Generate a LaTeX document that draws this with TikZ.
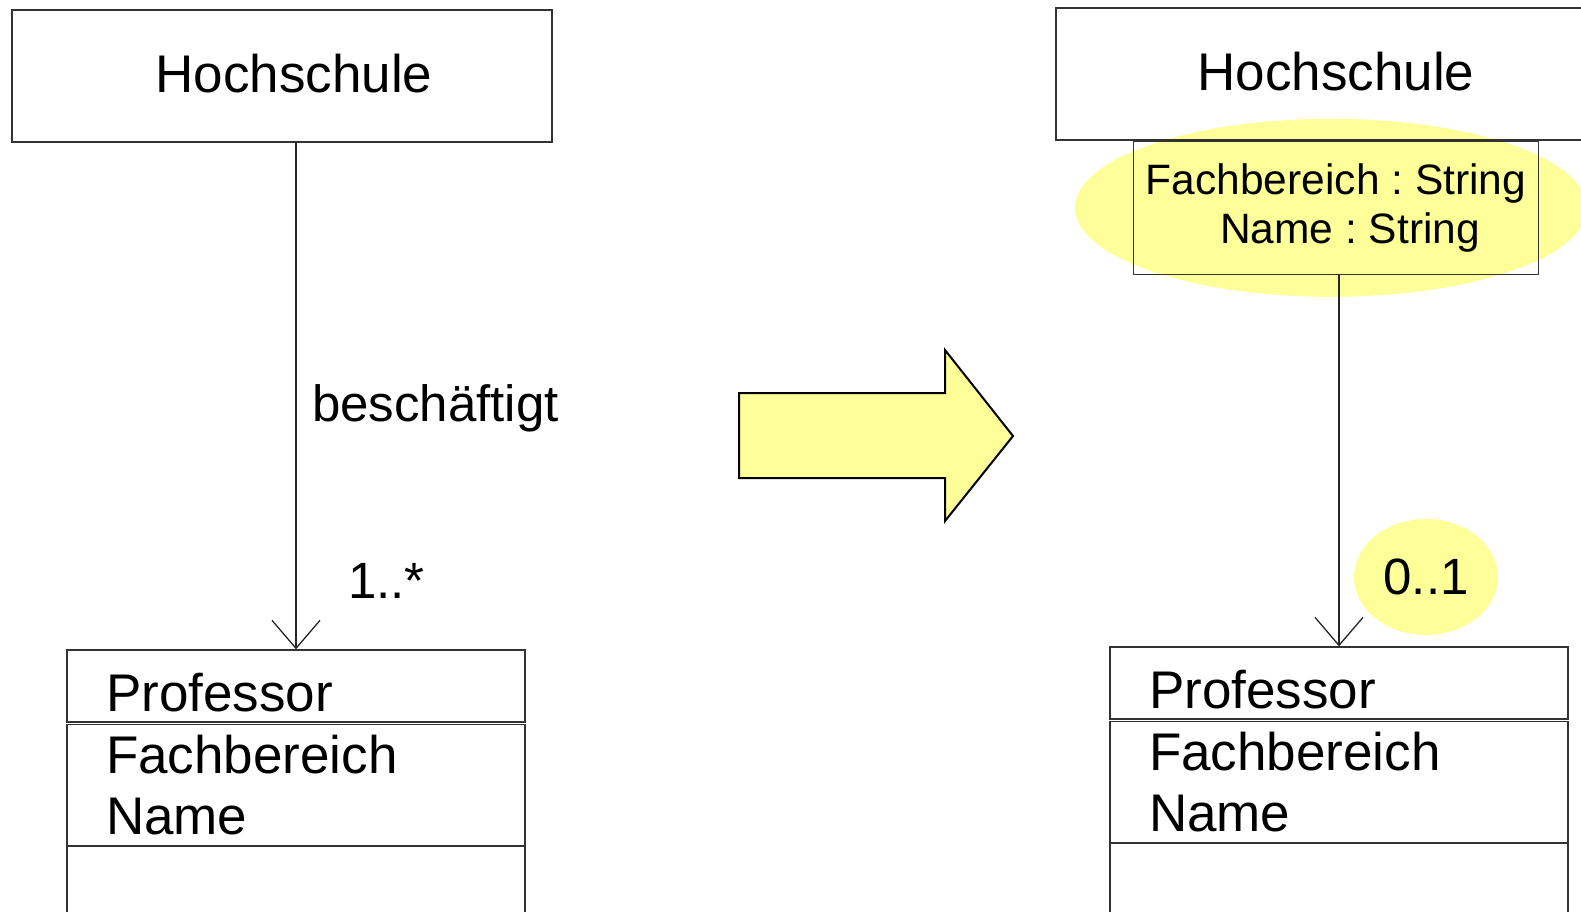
\documentclass[tikz,border=0pt]{standalone}
\usepackage{fontspec}
\setmainfont{Liberation Sans}
\usetikzlibrary{positioning,arrows.meta,shapes.geometric,backgrounds}
\definecolor{hlyellow}{RGB}{255,255,153}
\newcommand{\umlfont}{\fontsize{53}{61}\selectfont}
\newcommand{\qualfont}{\fontsize{42.5}{49.5}\selectfont}
\newcommand{\lblfont}{\fontsize{51}{60}\selectfont}
\frenchspacing
\tikzset{
  box/.style     ={draw=black!80, line width=1.3pt, inner sep=0pt},
  clsbox/.style  ={box, minimum height=132pt, text depth=5pt, font=\umlfont},
  cbox/.style    ={box, minimum width=458pt, text width=380pt,
                   inner xsep=39pt, align=left, font=\umlfont},
  cname/.style   ={cbox, minimum height=72pt, text height=50pt, text depth=0pt},
  cattr/.style   ={cbox, minimum height=121pt},
  cops/.style    ={cbox, minimum height=120pt},
  qual/.style    ={box, minimum width=405pt, minimum height=133pt, align=center,
                   font=\qualfont},
  assoc/.style   ={-{Straight Barb[length=28pt,width=48pt]}, line width=1.3pt,
                   draw=black!85},
  lbl/.style     ={font=\lblfont, inner sep=0pt},
  hl/.style      ={ellipse, fill=hlyellow, inner sep=0pt},
  bigarrow/.style={fill=hlyellow, draw=black, line width=2pt, line join=miter},
}

\begin{document}
\begin{tikzpicture}[x=1pt, y=-1pt, node distance=0pt]
  \useasboundingbox (0,0) rectangle (1581,911);
  \clip (0,0) rectangle (1581,911);

  % ---- association with role name ------------------------------------
  \node[clsbox, minimum width=540pt] (hsL) at (282,76) {\hspace*{24pt}Hochschule};
  \node[cname] (profL) at (296,686) {Professor};
  \node[cattr, below=1pt of profL] (attrL) {Fachbereich\\Name};
  \node[cops, below=0pt of attrL] (opsL) {};

  \draw[assoc] (hsL.south -| profL.north) -- (profL.north);
  \node[lbl, anchor=base west] (role) at (312,421) {beschäftigt};
  \node[lbl, anchor=base west] (multL) at (348,598) {1..*};

  % ---- block arrow ---------------------------------------------------
  \draw[bigarrow] (739,393) -- (945,393) -- (945,350) -- (1013,436)
                  -- (945,521) -- (945,478) -- (739,478) -- cycle;

  % ---- qualified association -----------------------------------------
  \node[clsbox, minimum width=560pt] (hsR) at (1336,74) {Hochschule};
  \node[qual, below=0pt of hsR] (qual)
        {Fachbereich : String\\\hspace*{28pt}Name : String};
  \node[cname] (profR) at (1339,683) {Professor};
  \node[cattr, below=1pt of profR] (attrR) {Fachbereich\\Name};
  \node[cops, below=0pt of attrR] (opsR) {};

  \begin{scope}[on background layer]
    \node[hl, minimum width=512pt, minimum height=178pt] (qualhl)
          at ([xshift=-5pt]qual.center) {};
  \end{scope}

  \draw[assoc] (qual.south -| profR.north) -- (profR.north);
  \node[hl, lbl, minimum width=144pt, minimum height=116pt] (multR) at (1426,577) {0..1};
\end{tikzpicture}
\end{document}
